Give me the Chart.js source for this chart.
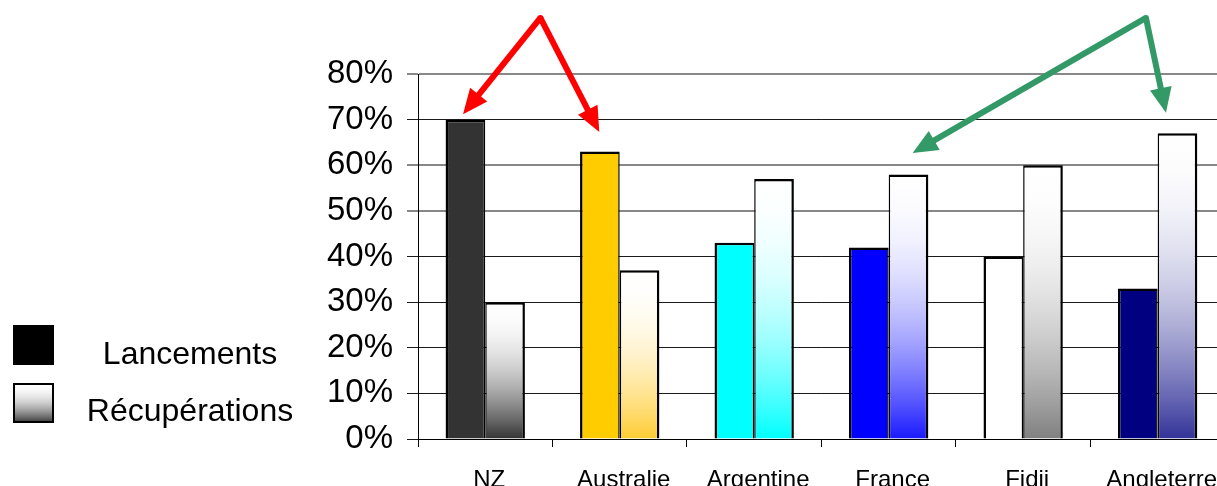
<!DOCTYPE html>
<html>
<head>
<meta charset="utf-8">
<script src="https://cdn.jsdelivr.net/npm/chart.js@4/dist/chart.umd.min.js"></script>
<style>
  html, body { margin: 0; padding: 0; background: #ffffff; overflow: hidden; }
  #wrap { position: absolute; left: 0; top: 0; width: 1232px; height: 499px; }
</style>
</head>
<body>
<div id="wrap"><canvas id="chart"></canvas></div>
<script>
// Share of launches won vs. share of recoveries, by team
const categories = ['NZ', 'Australie', 'Argentine', 'France', 'Fidji', 'Angleterre'];
const seriesNames = ['Lancements', 'Récupérations'];
const lancements = [70, 63, 43, 42, 40, 33];
const recuperations = [30, 37, 57, 58, 60, 67];
const yTicks = [0, 10, 20, 30, 40, 50, 60, 70, 80];

// Team colours: solid for launches, white-to-colour fade for recoveries
const teamColors = ['#333333', '#FFCC00', '#00FFFF', '#0000FF', '#FFFFFF', '#000080'];
const fadeColors = ['#333333', '#FFCC33', '#00FFFF', '#1A1AFF', '#808080', '#333399'];

// Callout arrows, in (category index, percent) coordinates
const arrows = [
  { color: '#FF0000', from: [0.41, 92.3], to: [[-0.165, 71.2], [0.848, 67.3]] },
  { color: '#339966', from: [4.913, 92.3], to: [[3.178, 62.7], [5.062, 71.5]] }
];

const FONT = "'Liberation Sans', Arial, sans-serif";

function hexToRgb(h) {
  const n = parseInt(h.slice(1), 16);
  return [(n >> 16) & 255, (n >> 8) & 255, n & 255];
}
function mixWhite(hex, t) {
  const [r, g, b] = hexToRgb(hex);
  const m = (c) => Math.round(255 + (c - 255) * t);
  return `rgb(${m(r)},${m(g)},${m(b)})`;
}
// Office-style fade: colour strength grows with the square of depth
function addFadeStops(g, hex) {
  for (let i = 0; i <= 8; i++) {
    const p = i / 8;
    g.addColorStop(p, mixWhite(hex, p * p));
  }
}

function fadeFill(ctx) {
  const chart = ctx.chart;
  const i = ctx.dataIndex;
  if (ctx.type !== 'data' || !chart.chartArea || !chart.scales.y) return fadeColors[i] || '#ffffff';
  const y = chart.scales.y;
  const top = y.getPixelForValue(ctx.raw);
  const bottom = y.getPixelForValue(0);
  const g = chart.ctx.createLinearGradient(0, top, 0, bottom);
  addFadeStops(g, fadeColors[i]);
  return g;
}

const greyLevels = [80, 60, 50];

const calloutArrows = {
  id: 'calloutArrows',
  afterDraw(chart) {
    const { ctx, scales } = chart;
    const px = (p) => [scales.x.getPixelForValue(p[0]), scales.y.getPixelForValue(p[1])];
    ctx.save();
    arrows.forEach((a) => {
      const [ax, ay] = px(a.from);
      a.to.forEach((t) => {
        const [tx, ty] = px(t);
        const dx = tx - ax, dy = ty - ay;
        const len = Math.hypot(dx, dy);
        const ux = dx / len, uy = dy / len;
        const headLen = 25, headHalf = 11;
        const bx = tx - ux * headLen, by = ty - uy * headLen;
        ctx.strokeStyle = a.color;
        ctx.fillStyle = a.color;
        ctx.lineWidth = 6;
        ctx.lineCap = 'butt';
        ctx.beginPath();
        ctx.moveTo(ax, ay);
        ctx.lineTo(bx + ux * 4, by + uy * 4);
        ctx.stroke();
        ctx.beginPath();
        ctx.moveTo(tx, ty);
        ctx.lineTo(bx - uy * headHalf, by + ux * headHalf);
        ctx.lineTo(bx + uy * headHalf, by - ux * headHalf);
        ctx.closePath();
        ctx.fill();
      });
      // joint at the apex
      ctx.beginPath();
      ctx.arc(ax, ay, 3, 0, Math.PI * 2);
      ctx.fill();
    });
    ctx.restore();
  }
};

const sideLegend = {
  id: 'sideLegend',
  afterDraw(chart) {
    const { ctx } = chart;
    const items = chart.data.datasets.map((d) => d.label);
    const boxX = 13, boxW = 41, boxH = 40;
    const rows = [325, 383];
    const baselines = [364, 421];
    ctx.save();
    items.forEach((label, k) => {
      const y0 = rows[k];
      if (k === 0) {
        ctx.fillStyle = '#000000';
      } else {
        const g = ctx.createLinearGradient(0, y0, 0, y0 + boxH);
        addFadeStops(g, '#333333');
        ctx.fillStyle = g;
      }
      ctx.fillRect(boxX, y0, boxW, boxH);
      ctx.strokeStyle = '#000000';
      ctx.lineWidth = 2;
      ctx.strokeRect(boxX + 1, y0 + 1, boxW - 2, boxH - 2);
      ctx.fillStyle = '#000000';
      ctx.font = `32px ${FONT}`;
      ctx.textAlign = 'center';
      ctx.textBaseline = 'alphabetic';
      ctx.fillText(label, 190, baselines[k]);
    });
    ctx.restore();
  }
};

new Chart(document.getElementById('chart'), {
  type: 'bar',
  data: {
    labels: categories,
    datasets: [
      {
        label: seriesNames[0],
        data: lancements,
        backgroundColor: teamColors,
        borderColor: '#000000',
        borderWidth: { top: 2.5, left: 2.5, right: 1.5, bottom: 0 }
      },
      {
        label: seriesNames[1],
        data: recuperations,
        backgroundColor: fadeFill,
        borderColor: '#000000',
        borderWidth: { top: 2.5, left: 1.5, right: 2.5, bottom: 0 }
      }
    ]
  },
  options: {
    responsive: true,
    maintainAspectRatio: false,
    animation: false,
    devicePixelRatio: 1,
    datasets: { bar: { categoryPercentage: 0.59, barPercentage: 1.0 } },
    layout: { padding: { left: 0, top: 74, right: 0, bottom: 0 } },
    plugins: {
      legend: { display: false },
      tooltip: { enabled: false }
    },
    scales: {
      x: {
        afterFit(scale) { scale.height = 60; },
        grid: {
          display: true,
          offset: true,
          drawOnChartArea: false,
          drawTicks: true,
          tickLength: 8,
          color: '#000000'
        },
        border: { display: true, color: '#000000', width: 1 },
        ticks: {
          color: '#000000',
          font: { family: FONT, size: 24 },
          padding: 19,
          labelOffset: 4,
          maxRotation: 0,
          autoSkip: false
        }
      },
      y: {
        min: yTicks[0],
        max: yTicks[yTicks.length - 1],
        afterFit(scale) { scale.width = 418; },
        afterBuildTicks(scale) { scale.ticks = yTicks.map((v) => ({ value: v })); },
        grid: {
          drawTicks: true,
          tickLength: 11,
          color: (c) => (greyLevels.includes(c.tick && c.tick.value) ? '#888888' : '#1a1a1a'),
          lineWidth: (c) => (greyLevels.includes(c.tick && c.tick.value) ? 2 : 1)
        },
        border: { display: true, color: '#000000', width: 1 },
        ticks: {
          color: '#000000',
          font: { family: FONT, size: 33 },
          padding: 14,
          callback: (v) => v + '%'
        }
      }
    }
  },
  plugins: [calloutArrows, sideLegend]
});
</script>
</body>
</html>
